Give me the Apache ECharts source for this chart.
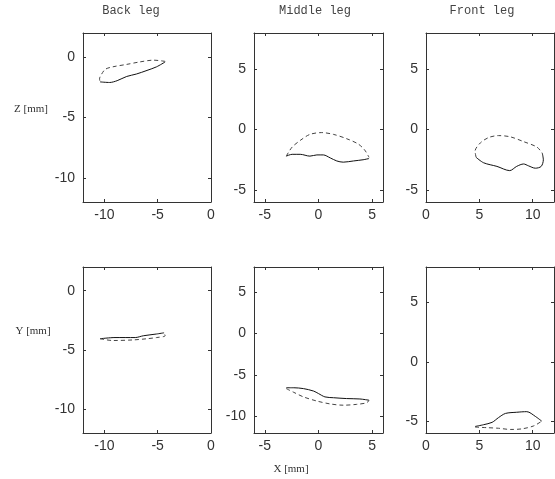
<!DOCTYPE html>
<html>
<head>
<meta charset="utf-8">
<script src="https://cdn.jsdelivr.net/npm/echarts@6/dist/echarts.min.js"></script>
<style>
html,body{margin:0;padding:0;background:#fff;}
#chart{width:555px;height:479px;}
</style>
</head>
<body>
<div id="chart"></div>
<script>
// ---- data (x, value) pairs in mm ----
var panelTitles = ['Back leg', 'Middle leg', 'Front leg'];
var rowLabels = ['Z [mm]', 'Y [mm]'];
var xAxisLabel = 'X [mm]';

// Z (top row)
var backZSwing = [[-4.3,-0.35],[-5.4,-0.25],[-6.7,-0.4],[-7.9,-0.6],[-9.2,-0.8],[-9.9,-1.0],[-10.25,-1.4],[-10.45,-1.8],[-10.4,-2.05]];
var backZStance = [[-10.4,-2.05],[-9.5,-2.1],[-8.8,-1.95],[-7.9,-1.6],[-7.0,-1.4],[-6.0,-1.1],[-5.1,-0.8],[-4.3,-0.4]];
var middleZSwing = [[-3.0,-2.2],[-2.45,-1.45],[-1.7,-0.9],[-0.8,-0.4],[0.3,-0.25],[1.4,-0.4],[2.6,-0.75],[3.7,-1.2],[4.3,-1.7],[4.7,-2.3]];
var middleZStance = [[-3.0,-2.2],[-2.45,-2.05],[-1.7,-2.05],[-0.8,-2.2],[-0.15,-2.1],[0.45,-2.1],[1.1,-2.35],[1.7,-2.6],[2.3,-2.7],[3.25,-2.6],[4.15,-2.5],[4.7,-2.4]];
var frontZSwing = [[4.7,-2.3],[4.6,-1.8],[5.1,-1.1],[5.9,-0.65],[6.8,-0.5],[7.9,-0.6],[9.15,-1.0],[10.4,-1.45],[10.9,-1.95]];
var frontZStance = [[4.7,-2.3],[5.4,-2.75],[6.65,-3.05],[7.85,-3.4],[8.5,-3.05],[9.15,-2.85],[9.6,-3.0],[10.25,-3.2],[10.8,-3.05],[11.0,-2.5],[10.9,-1.95]];

// Y (bottom row)
var backYStance = [[-10.4,-4.05],[-9.0,-3.95],[-7.1,-3.95],[-6.35,-3.8],[-5.1,-3.65],[-4.4,-3.55]];
var backYSwing = [[-10.4,-4.05],[-9.2,-4.2],[-7.3,-4.15],[-6.0,-4.05],[-5.1,-3.95],[-4.3,-3.8],[-4.4,-3.55]];
var middleYStance = [[-3.0,-6.55],[-2.3,-6.55],[-1.4,-6.65],[-0.45,-6.95],[0,-7.25],[0.6,-7.65],[1.4,-7.75],[2.6,-7.85],[3.85,-7.9],[4.7,-8.05]];
var middleYSwing = [[-3.0,-6.65],[-2.3,-7.1],[-1.4,-7.65],[-0.15,-8.15],[1.1,-8.5],[2.3,-8.65],[3.55,-8.55],[4.5,-8.35],[4.7,-8.05]];
var frontYStance = [[4.6,-5.45],[5.4,-5.3],[6.2,-5.1],[6.8,-4.7],[7.45,-4.35],[8.5,-4.25],[9.45,-4.2],[10.25,-4.6],[10.85,-5.0]];
var frontYSwing = [[4.6,-5.5],[5.7,-5.55],[6.8,-5.6],[7.9,-5.7],[9.0,-5.65],[10.1,-5.4],[10.85,-5.0]];

// axis ranges and tick labels
var backXRange = [-12, 0];   var backXTicks = [-10, -5, 0];
var middleXRange = [-6, 6];  var middleXTicks = [-5, 0, 5];
var frontXRange = [0, 12];   var frontXTicks = [0, 5, 10];
var backZRange = [-12, 2];   var backZTicks = [-10, -5, 0];
var middleZRange = [-6, 8];  var middleZTicks = [-5, 0, 5];
var frontZRange = [-6, 8];   var frontZTicks = [-5, 0, 5];
var backYRange = [-12, 2];   var backYTicks = [-10, -5, 0];
var middleYRange = [-12, 8]; var middleYTicks = [-10, -5, 0, 5];
var frontYRange = [-6, 8];   var frontYTicks = [-5, 0, 5];

// ---- layout ----
var colLeft = [83, 254, 426];
var colWidth = [128, 129, 128];
var rowTop = [33, 267];
var rowHeight = [169, 166];

var panels = [
  {r:0,c:0,xr:backXRange,xt:backXTicks,yr:backZRange,yt:backZTicks,swing:backZSwing,stance:backZStance},
  {r:0,c:1,xr:middleXRange,xt:middleXTicks,yr:middleZRange,yt:middleZTicks,swing:middleZSwing,stance:middleZStance},
  {r:0,c:2,xr:frontXRange,xt:frontXTicks,yr:frontZRange,yt:frontZTicks,swing:frontZSwing,stance:frontZStance},
  {r:1,c:0,xr:backXRange,xt:backXTicks,yr:backYRange,yt:backYTicks,swing:backYSwing,stance:backYStance},
  {r:1,c:1,xr:middleXRange,xt:middleXTicks,yr:middleYRange,yt:middleYTicks,swing:middleYSwing,stance:middleYStance},
  {r:1,c:2,xr:frontXRange,xt:frontXTicks,yr:frontYRange,yt:frontYTicks,swing:frontYSwing,stance:frontYStance}
];

var boxColor = '#333';
var labelFont = {fontFamily: 'Liberation Sans, Arial, sans-serif', fontSize: 14, color: '#333'};

var grid = [], xAxis = [], yAxis = [], series = [];
panels.forEach(function (p, i) {
  grid.push({left: colLeft[p.c], top: rowTop[p.r], width: colWidth[p.c], height: rowHeight[p.r], containLabel: false});
  var xi = xAxis.length, yi = yAxis.length;
  [['bottom', true], ['top', false]].forEach(function (pos) {
    xAxis.push({
      type: 'value', gridIndex: i, position: pos[0], min: p.xr[0], max: p.xr[1],
      axisLine: {show: true, onZero: false, lineStyle: {color: boxColor, width: 1}},
      axisTick: {show: true, inside: true, length: 3, customValues: p.xt, lineStyle: {color: boxColor}},
      axisLabel: Object.assign({show: pos[1], margin: 6, customValues: p.xt}, labelFont),
      splitLine: {show: false}
    });
  });
  [['left', true], ['right', false]].forEach(function (pos) {
    yAxis.push({
      type: 'value', gridIndex: i, position: pos[0], min: p.yr[0], max: p.yr[1],
      axisLine: {show: true, onZero: false, lineStyle: {color: boxColor, width: 1}},
      axisTick: {show: true, inside: true, length: 3, customValues: p.yt, lineStyle: {color: boxColor}},
      axisLabel: Object.assign({show: pos[1], margin: 8, customValues: p.yt}, labelFont),
      splitLine: {show: false}
    });
  });
  series.push({
    type: 'line', xAxisIndex: xi, yAxisIndex: yi, data: p.stance, showSymbol: false, smooth: 0.3,
    lineStyle: {color: '#111', width: 1, type: 'solid'}, silent: true, animation: false
  });
  series.push({
    type: 'line', xAxisIndex: xi, yAxisIndex: yi, data: p.swing, showSymbol: false, smooth: 0.3,
    lineStyle: {color: '#444', width: 1, type: [4, 3]}, silent: true, animation: false
  });
});

var titleFont = {fontFamily: 'Liberation Mono, monospace', fontSize: 12, fill: '#444'};
var sideFont = {fontFamily: 'Liberation Serif, Times New Roman, serif', fontSize: 11, fill: '#333'};
var titleX = [131, 315, 482];
var graphic = [];
panelTitles.forEach(function (t, i) {
  graphic.push({type: 'text', x: titleX[i], y: 11, style: Object.assign({text: t, align: 'center', verticalAlign: 'middle'}, titleFont)});
});
graphic.push({type: 'text', x: 31, y: 109, style: Object.assign({text: rowLabels[0], align: 'center', verticalAlign: 'middle'}, sideFont)});
graphic.push({type: 'text', x: 33, y: 331, style: Object.assign({text: rowLabels[1], align: 'center', verticalAlign: 'middle'}, sideFont)});
graphic.push({type: 'text', x: 291, y: 469, style: Object.assign({text: xAxisLabel, align: 'center', verticalAlign: 'middle'}, sideFont)});

var chart = echarts.init(document.getElementById('chart'), null, {renderer: 'canvas'});
chart.setOption({
  animation: false,
  backgroundColor: '#fff',
  grid: grid, xAxis: xAxis, yAxis: yAxis, series: series, graphic: graphic
});
</script>
</body>
</html>
